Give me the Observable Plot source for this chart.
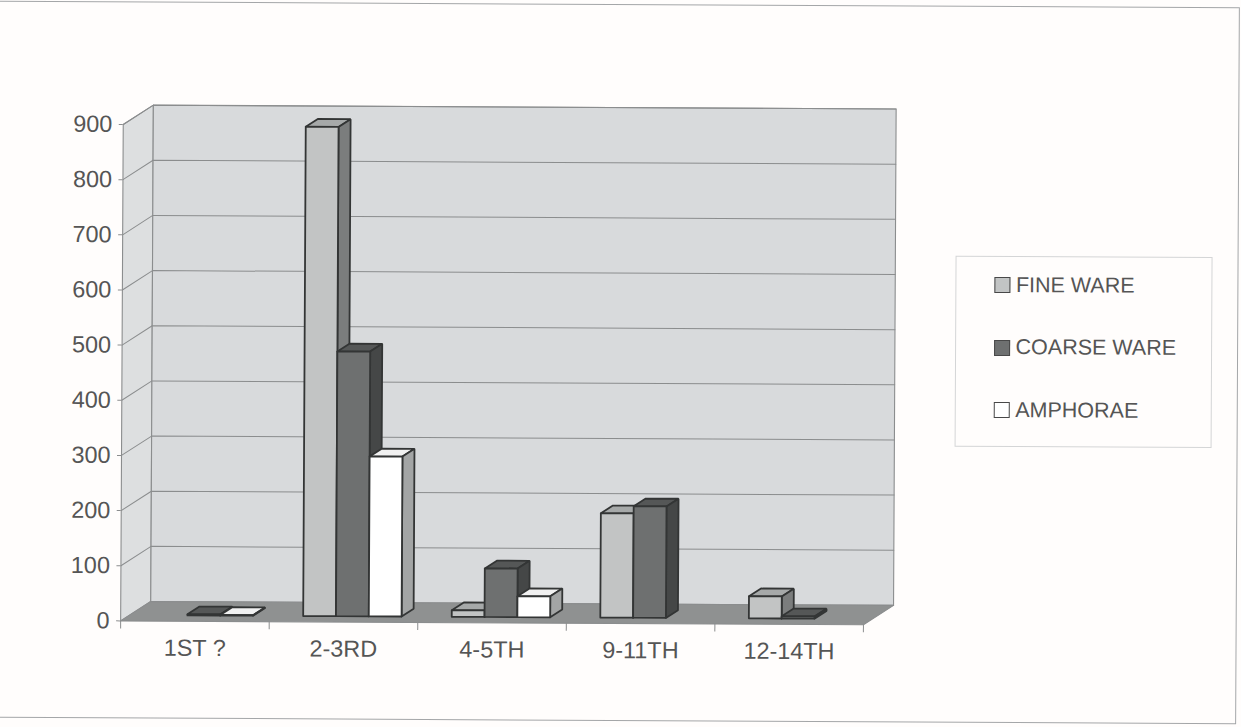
<!DOCTYPE html>
<html>
<head>
<meta charset="utf-8">
<script src="https://cdn.jsdelivr.net/npm/d3@7"></script>
<script src="https://cdn.jsdelivr.net/npm/@observablehq/plot@0.6"></script>
<style>
html,body{margin:0;padding:0;background:#fffdfc;overflow:hidden;width:1241px;height:727px}
#page{position:relative;width:1241px;height:727px;transform:rotate(0.3deg);transform-origin:620px 363px;font-family:"Liberation Sans",Arial,sans-serif}
#frame{position:absolute;left:-12px;top:4px;width:1250px;height:717px;border:1.5px solid #a4a6a8;box-sizing:border-box}
#chart{position:absolute;left:0;top:0}
#legend{position:absolute;left:955px;top:254px;width:257px;height:191px;border:1px solid #d4d5d6;box-sizing:border-box}
#legend .rows{margin-top:-3px}
#legend .row{height:62.5px;display:flex;align-items:center;padding-left:38px;font-size:21.5px;color:#555}
#legend .sw{width:14px;height:14px;border:1.8px solid #484848;margin-right:5.5px;flex:none;box-sizing:content-box}
</style>
</head>
<body>
<div id="page"><div id="frame"></div><div id="chart"></div><div id="legend"><div class="rows"></div></div></div>
<script>
const categories = ["1ST ?", "2-3RD", "4-5TH", "9-11TH", "12-14TH"];
const seriesNames = ["FINE WARE", "COARSE WARE", "AMPHORAE"];
const fineWare = [null, 887, 12, 189, 40];
const coarseWare = [2, 480, 88, 202, 4];
const amphorae = [1, 290, 38, null, null];
const yTicks = [0, 100, 200, 300, 400, 500, 600, 700, 800, 900];
const faceFront = ["#c2c4c4", "#6e7070", "#ffffff"];
const faceTop = ["#a6a9a9", "#555757", "#f1f1f1"];
const faceSide = ["#7b7d7d", "#454747", "#a3a5a5"];

// Depth of the 3-D box, expressed in scale units
const depthX = 0.202, depthY = 35.4;
const groupGap = 0.168, barW = 0.2208;
const z0 = 0.3, z1 = 0.7;
const at = (x, y, z) => ({x: x + z * depthX, y: y + z * depthY});
const poly = (id, fill, corners) => [...corners, corners[0]].map(p => ({...p, id, fill}));

const n = categories.length, maxY = 900;
const walls = [
  ...poly("left", "#dddfe0", [at(0,0,0), at(0,0,1), at(0,maxY,1), at(0,maxY,0)]),
  ...poly("back", "#d8dadc", [at(0,0,1), at(n,0,1), at(n,maxY,1), at(0,maxY,1)]),
  ...poly("floor", "#8f9191", [at(0,0,0), at(n,0,0), at(n,0,1), at(0,0,1)])
];
const grid = yTicks.filter(v => v > 0).flatMap(v =>
  [at(0,v,0), at(0,v,1), at(n,v,1)].map(p => ({...p, v})));

const seriesValues = [fineWare, coarseWare, amphorae];
const faces = [];
categories.forEach((c, i) => seriesValues.forEach((vals, s) => {
  const v = vals[i];
  if (v == null) return;
  const a = i + groupGap + s * barW, b = a + barW, k = `${i}-${s}`;
  faces.push(
    ...poly(k + "t", faceTop[s], [at(a,v,z0), at(b,v,z0), at(b,v,z1), at(a,v,z1)]),
    ...poly(k + "r", faceSide[s], [at(b,0,z0), at(b,v,z0), at(b,v,z1), at(b,0,z1)]),
    ...poly(k + "f", faceFront[s], [at(a,0,z0), at(b,0,z0), at(b,v,z0), at(a,v,z0)])
  );
}));

const chart = Plot.plot({
  width: 1241, height: 727,
  marginLeft: 121.5, marginRight: 376.7, marginTop: 126.6, marginBottom: 104,
  x: {domain: [0, n]},
  y: {domain: [0, maxY]},
  color: {type: "identity"},
  style: {background: "transparent", fontFamily: '"Liberation Sans",Arial,sans-serif', overflow: "visible"},
  marks: [
    Plot.line(walls, {x: "x", y: "y", z: "id", fill: "fill", stroke: "#8b8d8e", strokeWidth: 1.1}),
    Plot.line(grid, {x: "x", y: "y", z: "v", stroke: "#8b8d8e", strokeWidth: 1}),
    Plot.line(faces, {x: "x", y: "y", z: "id", fill: "fill", stroke: "#333535", strokeWidth: 1.8, strokeLinejoin: "miter"}),
    Plot.axisY({ticks: yTicks, tickSize: 4, tickPadding: 7, label: null, fontSize: 23.4, color: "#555", stroke: "#8b8d8e"}),
    Plot.axisX({ticks: d3.range(n + 1), tickSize: 8, tickFormat: () => "", label: null, stroke: "#8b8d8e"}),
    Plot.axisX({ticks: categories.map((c, i) => i + 0.5), tickSize: 0, tickPadding: 18, label: null, fontSize: 23.4, color: "#555",
      tickFormat: d => categories[Math.floor(d)]})
  ]
});
document.getElementById("chart").appendChild(chart);

const rows = document.querySelector("#legend .rows");
seriesNames.forEach((name, s) => {
  const r = document.createElement("div"); r.className = "row";
  const sw = document.createElement("span"); sw.className = "sw"; sw.style.background = faceFront[s];
  const t = document.createElement("span"); t.textContent = name;
  r.append(sw, t); rows.append(r);
});
</script>
</body>
</html>
